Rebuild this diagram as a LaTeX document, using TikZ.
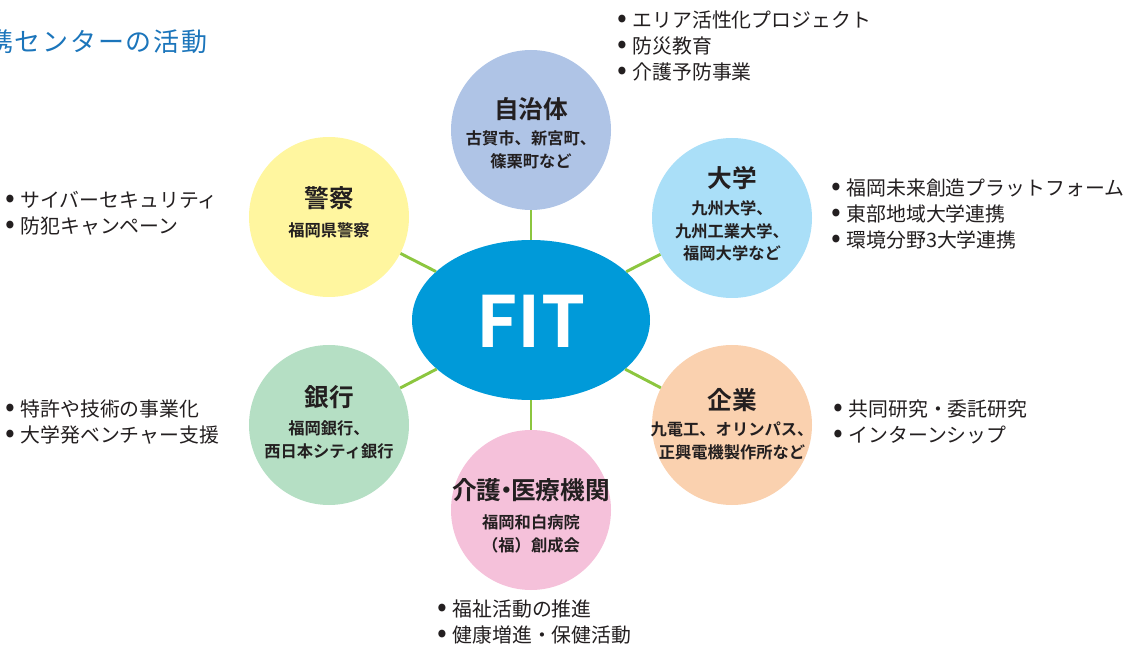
\documentclass[tikz,border=0pt]{standalone}
\usepackage{fontspec}
\usetikzlibrary{shapes.geometric}
\setmainfont{Noto Sans CJK JP}[BoldFont={Noto Sans CJK JP Bold}]
\definecolor{fitblue}{HTML}{009AD9}
\definecolor{linkgreen}{HTML}{8CC63F}
\definecolor{cjichi}{HTML}{AFC4E6}
\definecolor{cpolice}{HTML}{FFF69F}
\definecolor{cuniv}{HTML}{AADFF8}
\definecolor{cbank}{HTML}{B5DFC4}
\definecolor{ccorp}{HTML}{FAD1AF}
\definecolor{ccare}{HTML}{F5C1DA}
\definecolor{txt}{HTML}{231F20}
\definecolor{titleblue}{HTML}{1B75BB}
\tikzset{
  partner/.style={circle, inner sep=0pt, minimum size=120pt, draw=none},
  link/.style={draw=linkgreen, line width=2.2pt},
  ttl/.style={text=txt, font=\bfseries\fontsize{18.5}{22}\selectfont, inner sep=0pt},
  sub/.style={text=txt, font=\bfseries\fontsize{12.2}{16.8}\selectfont, align=center, inner sep=0pt},
  blist/.style={text=txt, font=\fontsize{14.9}{19.6}\selectfont, align=left, inner sep=0pt, anchor=west},
}
\newcommand{\bu}{\scalebox{1.45}{•}\hspace{0.28em}}
\newcommand{\tsp}{\hspace{0.065em}}
\begin{document}
\begin{tikzpicture}[x=0.75pt,y=-0.75pt]
\useasboundingbox (0,0) rectangle (1132,645);
% title
\node[anchor=west, inner sep=0pt, text=titleblue, font=\fontsize{19.5}{22}\selectfont] (title) at (-13,42) {携\tsp セ\tsp ン\tsp タ\tsp ー\tsp の\tsp 活\tsp 動};
% circles
\node[partner, fill=cjichi] (jichi) at (531,130) {};
\node[partner, fill=cpolice] (police) at (329,217) {};
\node[partner, fill=cuniv] (univ) at (732,218) {};
\node[partner, fill=cbank] (bank) at (329,425) {};
\node[partner, fill=ccorp] (corp) at (732,425) {};
\node[partner, fill=ccare] (care) at (531,510) {};
% center
\node[ellipse, fill=fitblue, minimum width=178.5pt, minimum height=120pt, inner sep=0pt] (fit) at (531,320) {};
\node[text=white, font=\bfseries\fontsize{53}{60}\selectfont, inner sep=0pt] (fitlabel) at (531,321) {FIT};
% links
\draw[link] (fit) -- (jichi);
\draw[link] (fit) -- (police);
\draw[link] (fit) -- (univ);
\draw[link] (fit) -- (bank);
\draw[link] (fit) -- (corp);
\draw[link] (fit) -- (care);
% circle texts
\node[ttl] (jichi-t) at (531,109) {自治体};
\node[sub] (jichi-s) at (531,150) {古賀市、新宮町、\\篠栗町など};
\node[ttl] (police-t) at (329,198) {警察};
\node[sub] (police-s) at (329,230) {福岡県警察};
\node[ttl] (univ-t) at (732,178) {大学};
\node[sub] (univ-s) at (732,231) {九州大学、\\九州工業大学、\\福岡大学など};
\node[ttl] (bank-t) at (329,397) {銀行};
\node[sub] (bank-s) at (329,440) {福岡銀行、\\西日本シティ銀行};
\node[ttl] (corp-t) at (732,400) {企業};
\node[sub] (corp-s) at (732,441) {九電工、オリンパス、\\正興電機製作所など};
\node[ttl] (care-t) at (531,490) {介護\hspace{-0.3em}・\hspace{-0.3em}医療機関};
\node[sub] (care-s) at (531,534) {福岡和白病院\\（福）創成会};
% bullet lists
\node[blist] (l-jichi) at (617,46) {\bu エリア活性化プロジェクト\\\bu 防災教育\\\bu 介護予防事業};
\node[blist] (l-univ) at (831,214) {\bu 福岡未来創造プラットフォーム\\\bu 東部地域大学連携\\\bu 環境分野3大学連携};
\node[blist] (l-police) at (5,213) {\bu サイバーセキュリティ\\\bu 防犯キャンペーン};
\node[blist] (l-bank) at (5,422) {\bu 特許や技術の事業化\\\bu 大学発ベンチャー支援};
\node[blist] (l-corp) at (833,422) {\bu 共同研究・委託研究\\\bu インターンシップ};
\node[blist] (l-care) at (437,622) {\bu 福祉活動の推進\\\bu 健康増進・保健活動};
\end{tikzpicture}
\end{document}
